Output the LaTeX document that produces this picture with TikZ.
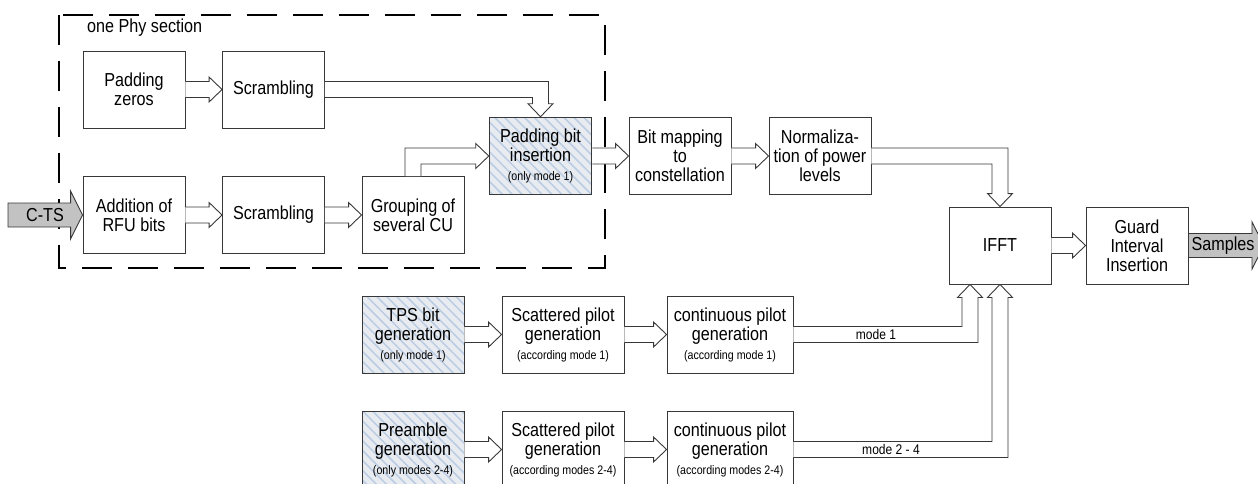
\documentclass[tikz,border=0pt]{standalone}
\usepackage{fontspec}
\setmainfont[FakeStretch=0.86]{Liberation Sans}
\usetikzlibrary{calc,patterns.meta}

\definecolor{edge}{HTML}{383838}
\definecolor{hatchbg}{HTML}{E8EBEF}
\definecolor{hatchln}{HTML}{B9CCE4}
\definecolor{fatgray}{HTML}{C2C2C2}

% hollow arrow dimensions: shaft half width, head half width, head length
\def\asw{8pt}
\def\ahw{12.5pt}
\def\ahl{13pt}

\tikzset{
  blk/.style={draw=edge, line width=0.9pt, fill=white, minimum width=102pt,
    minimum height=77pt, inner sep=0pt, align=center,
    font=\fontsize{18.8}{19}\selectfont},
  wideblk/.style={blk, minimum width=122pt},
  widerblk/.style={blk, minimum width=126pt},
  hatched/.style={preaction={fill=hatchbg},
    pattern={Lines[angle=-45, distance=7pt, line width=1.5pt]},
    pattern color=hatchln},
  hollow/.style={draw=edge, line width=0.9pt, fill=white, line join=miter},
  fat/.style={draw=edge, line width=0.9pt, fill=fatgray, line join=miter},
  section/.style={draw=black, line width=1.8pt, dash pattern=on 30pt off 16pt},
  lbl/.style={font=\fontsize{18.8}{19}\selectfont, inner sep=0pt},
  modelbl/.style={font=\fontsize{14}{15}\selectfont, inner sep=0pt}
}

% straight arrow pointing right
\newcommand\hArr[2]{\draw[hollow] let \p1=(#1), \p2=(#2) in
  (\x1,\y1+\asw) -- (\x2-\ahl,\y1+\asw) -- (\x2-\ahl,\y1+\ahw) -- (\x2,\y1)
  -- (\x2-\ahl,\y1-\ahw) -- (\x2-\ahl,\y1-\asw) -- (\x1,\y1-\asw);}
% arrow going right, then down
\newcommand\rdArr[2]{\draw[hollow] let \p1=(#1), \p2=(#2) in
  (\x1,\y1+\asw) -- (\x2+\asw,\y1+\asw) -- (\x2+\asw,\y2+\ahl) -- (\x2+\ahw,\y2+\ahl)
  -- (\x2,\y2) -- (\x2-\ahw,\y2+\ahl) -- (\x2-\asw,\y2+\ahl) -- (\x2-\asw,\y1-\asw)
  -- (\x1,\y1-\asw);}
% arrow going right, then up
\newcommand\ruArr[2]{\draw[hollow] let \p1=(#1), \p2=(#2) in
  (\x1,\y1+\asw) -- (\x2-\asw,\y1+\asw) -- (\x2-\asw,\y2-\ahl) -- (\x2-\ahw,\y2-\ahl)
  -- (\x2,\y2) -- (\x2+\ahw,\y2-\ahl) -- (\x2+\asw,\y2-\ahl) -- (\x2+\asw,\y1-\asw)
  -- (\x1,\y1-\asw);}
% arrow going up, then right
\newcommand\urArr[2]{\draw[hollow] let \p1=(#1), \p2=(#2) in
  (\x1-\asw,\y1) -- (\x1-\asw,\y2+\asw) -- (\x2-\ahl,\y2+\asw) -- (\x2-\ahl,\y2+\ahw)
  -- (\x2,\y2) -- (\x2-\ahl,\y2-\ahw) -- (\x2-\ahl,\y2-\asw) -- (\x1+\asw,\y2-\asw)
  -- (\x1+\asw,\y1);}

\newcommand\smalltext[1]{{\fontsize{12.4}{14}\selectfont #1}}

\begin{document}
\begin{tikzpicture}[x=1pt, y=-1pt]
\useasboundingbox (0,0) rectangle (1258,484);

% Phy section frame
\draw[section] (59,15) rectangle (605,268);
\node[lbl, anchor=west] (phy) at (87,28) {one Phy section};

% blocks
\node[blk] (pz)   at (134,89.5)  {Padding\\zeros};
\node[blk] (scr1) at (273.5,89.5) {Scrambling};
\node[blk] (rfu)  at (134,215)   {Addition of\\RFU bits};
\node[blk] (scr2) at (273.5,215) {Scrambling};
\node[blk] (grp)  at (413,215)   {Grouping of\\several CU};
\node[blk, hatched] (pbi) at (540.5,156) {Padding bit\\insertion\\\smalltext{(only mode 1)}};
\node[blk] (bmap) at (680,156)   {Bit mapping\\to\\constellation};
\node[blk] (norm) at (820,156)   {Normaliza-\\tion of power\\levels};
\node[blk] (ifft) at (1000,245.5) {IFFT};
\node[blk] (gii)  at (1137,245.5) {Guard\\Interval\\Insertion};

\node[blk, hatched] (tps) at (413,334.5) {TPS bit\\generation\\\smalltext{(only mode 1)}};
\node[wideblk] (spa)  at (563,334.5) {Scattered pilot\\generation\\\smalltext{(according mode 1)}};
\node[widerblk] (cpa) at (730,334.5) {continuous pilot\\generation\\\smalltext{(according mode 1)}};

\node[blk, hatched] (pre) at (413,449.5) {Preamble\\generation\\\smalltext{(only modes 2-4)}};
\node[wideblk] (spb)  at (563,449.5) {Scattered pilot\\generation\\\smalltext{(according modes 2-4)}};
\node[widerblk] (cpb) at (730,449.5) {continuous pilot\\generation\\\smalltext{(according modes 2-4)}};

% entry points on the IFFT bottom edge
\coordinate (ifftA) at ($(ifft.south)+(-30pt,0pt)$);
\coordinate (ifftB) at (ifft.south);

% hollow connectors
\hArr{pz.east}{scr1.west}
\hArr{rfu.east}{scr2.west}
\hArr{scr2.east}{grp.west}
\rdArr{scr1.east}{pbi.north}
\urArr{grp.north}{pbi.west}
\hArr{pbi.east}{bmap.west}
\hArr{bmap.east}{norm.west}
\rdArr{norm.east}{ifft.north}
\hArr{ifft.east}{gii.west}
\hArr{tps.east}{spa.west}
\hArr{spa.east}{cpa.west}
\hArr{pre.east}{spb.west}
\hArr{spb.east}{cpb.west}
\ruArr{cpa.east}{ifftA}
\ruArr{cpb.east}{ifftB}

\node[modelbl] (m1) at (876,334.5) {mode 1};
\node[modelbl] (m24) at (891,449.5) {mode 2 - 4};

% input and output streams
\coordinate (ctsin) at (8,215);
\draw[fat] let \p1=(ctsin), \p2=(rfu.west) in
  (\x1,\y2+12pt) -- (\x2-12pt,\y2+12pt) -- (\x2-12pt,\y2+24pt) -- (\x2,\y2)
  -- (\x2-12pt,\y2-24pt) -- (\x2-12pt,\y2-12pt) -- (\x1,\y2-12pt) -- cycle;
\node[lbl] (cts) at (45,215) {C-TS};

\coordinate (sampout) at (1264,245.5);
\draw[fat] let \p1=(gii.east), \p2=(sampout) in
  (\x1,\y1+12pt) -- (\x2-12pt,\y1+12pt) -- (\x2-12pt,\y1+23.5pt) -- (\x2,\y1)
  -- (\x2-12pt,\y1-23.5pt) -- (\x2-12pt,\y1-12pt) -- (\x1,\y1-12pt) -- cycle;
\node[lbl] (samp) at (1223,245.5) {Samples};
\end{tikzpicture}
\end{document}
